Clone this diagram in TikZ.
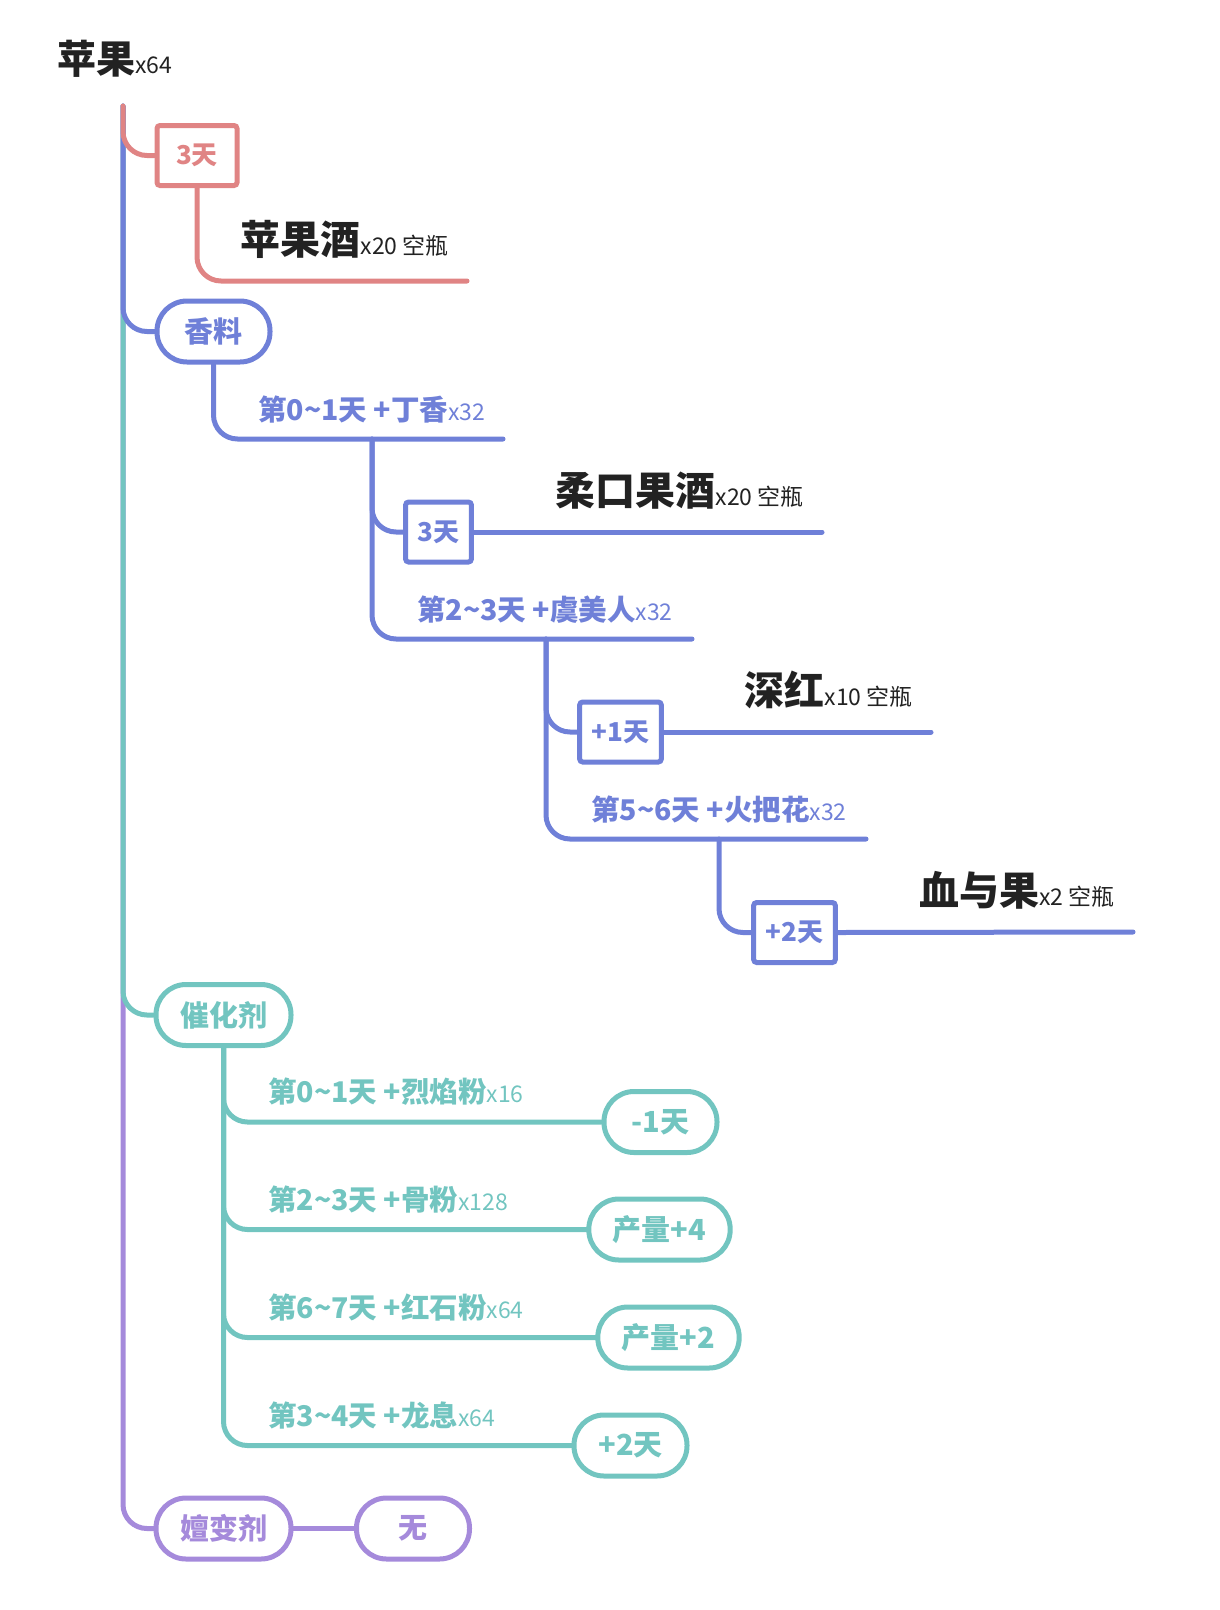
\documentclass[tikz,border=0pt]{standalone}
\usepackage{fontspec}
\setmainfont{Noto Sans CJK SC}
\definecolor{redbr}{HTML}{E08484}
\definecolor{bluebr}{HTML}{6F80D8}
\definecolor{tealbr}{HTML}{72C5C0}
\definecolor{purplebr}{HTML}{A58ADB}
\definecolor{ink}{HTML}{222222}
\newcommand\amt[1]{{\mdseries\fontsize{23pt}{23pt}\selectfont #1}}

\begin{document}
\begin{tikzpicture}[
  x=1pt, y=-1pt,
  link/.style={line width=5pt, rounded corners=24pt, line cap=round},
  daybox/.style={rectangle, draw=#1, text=#1, fill=white, line width=5pt, rounded corners=3pt,
                 minimum height=60pt, inner xsep=12pt,
                 font=\bfseries\fontsize{26pt}{26pt}\selectfont},
  pill/.style={rectangle, draw=#1, text=#1, fill=white, line width=5pt, rounded corners=30pt,
               minimum width=113pt, minimum height=61pt, inner xsep=24pt,
               font=\bfseries\fontsize{29pt}{29pt}\selectfont},
  tag/.style={anchor=base west, inner sep=0pt, text=#1,
              font=\bfseries\fontsize{28.5pt}{28.5pt}\selectfont},
  drink/.style={anchor=base east, inner sep=0pt, text=ink,
                font=\bfseries\fontsize{40pt}{40pt}\selectfont}
]
  \useasboundingbox (0,0) rectangle (1220,1610);

  \node[anchor=base west, inner sep=0pt, text=ink,
        font=\bfseries\fontsize{39pt}{39pt}\selectfont] (apple) at (57,73) {苹果\amt{x64}};
  \coordinate (root) at (123,106);

  \node[daybox=redbr, minimum width=80pt] (d3r) at (197,155.5) {3天};
  \node[pill=bluebr]     (spice) at (213.5,331.5) {香料};
  \node[pill=tealbr]     (cat)   at (223.5,1015)  {催化剂};
  \node[pill=purplebr]   (trans) at (223.5,1528.5) {嬗变剂};
  \node[pill=purplebr]   (none)  at (413,1528.5)  {无};

  \node[drink] (cider) at (449,254) {苹果酒\amt{x20 空瓶}};
  \coordinate (ciderend) at (467,281);

  \node[tag=bluebr] (clove) at (258,420) {第0\textasciitilde1天 +丁香\amt{x32}};
  \coordinate (cloveend) at (503,439);
  \coordinate (fork1) at (372,439);
  \node[daybox=bluebr] (d3b) at (438.5,532) {3天};
  \node[drink] (mild) at (804,505) {柔口果酒\amt{x20 空瓶}};
  \coordinate (mildend) at (822,532);

  \node[tag=bluebr] (poppy) at (417,620) {第2\textasciitilde3天 +虞美人\amt{x32}};
  \coordinate (poppyend) at (692,639);
  \coordinate (fork2) at (546,639);
  \node[daybox=bluebr] (d1b) at (620.5,732) {+1天};
  \node[drink] (crimson) at (913,705) {深红\amt{x10 空瓶}};
  \coordinate (crimsonend) at (931,732);

  \node[tag=bluebr] (torch) at (591,820) {第5\textasciitilde6天 +火把花\amt{x32}};
  \coordinate (torchend) at (866,839);
  \coordinate (fork3) at (719,839);
  \node[daybox=bluebr] (d2b) at (794.5,932.5) {+2天};
  \node[drink] (blood) at (1115,905) {血与果\amt{x2 空瓶}};
  \coordinate (bloodend) at (1133,932);

  \node[tag=tealbr] (blaze) at (268,1102) {第0\textasciitilde1天 +烈焰粉\amt{x16}};
  \node[pill=tealbr] (m1) at (660.5,1122) {-1天};
  \node[tag=tealbr] (bone) at (268,1210) {第2\textasciitilde3天 +骨粉\amt{x128}};
  \node[pill=tealbr] (m2) at (659.5,1229.5) {产量+4};
  \node[tag=tealbr] (redstone) at (268,1318) {第6\textasciitilde7天 +红石粉\amt{x64}};
  \node[pill=tealbr] (m3) at (668.5,1337.5) {产量+2};
  \node[tag=tealbr] (breath) at (268,1426) {第3\textasciitilde4天 +龙息\amt{x64}};
  \node[pill=tealbr] (m4) at (630.5,1445.5) {+2天};

  \draw[link, purplebr] (root) |- (trans.west);
  \draw[link, purplebr] (trans.east) -- (none.west);
  \draw[link, tealbr] (root) |- (cat.west);
  \draw[link, tealbr] (cat.south) |- (m1.west);
  \draw[link, tealbr] (cat.south) |- (m2.west);
  \draw[link, tealbr] (cat.south) |- (m3.west);
  \draw[link, tealbr] (cat.south) |- (m4.west);
  \draw[link, bluebr] (root) |- (spice.west);
  \draw[link, bluebr] (spice.south) |- (cloveend);
  \draw[link, bluebr] (fork1) |- (d3b.west);
  \draw[link, bluebr] (d3b.east) -- (mildend);
  \draw[link, bluebr] (fork1) |- (poppyend);
  \draw[link, bluebr] (fork2) |- (d1b.west);
  \draw[link, bluebr] (d1b.east) -- (crimsonend);
  \draw[link, bluebr] (fork2) |- (torchend);
  \draw[link, bluebr] (fork3) |- (d2b.west);
  \draw[link, bluebr] (d2b.east) -- (bloodend);
  \draw[link, redbr] (root) |- (d3r.west);
  \draw[link, redbr] (d3r.south) |- (ciderend);
\end{tikzpicture}
\end{document}
